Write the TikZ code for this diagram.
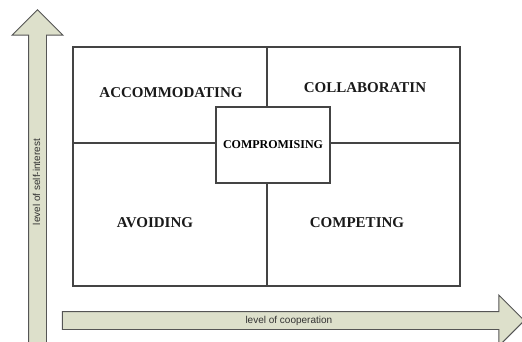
\documentclass[tikz,border=0pt]{standalone}
\usepackage{fontspec}
\setmainfont{Liberation Serif}
\setsansfont{Liberation Sans}
\usepackage{tikz}
\usetikzlibrary{shapes.arrows}

\definecolor{arrowfill}{HTML}{DDE0CB}
\definecolor{arrowline}{HTML}{555555}
\definecolor{boxline}{HTML}{444444}

\tikzset{
	axisarrow/.style={single arrow, draw=arrowline, fill=arrowfill, line width=0.9pt,
		single arrow head extend=16.5pt, single arrow tip angle=90,
		inner xsep=0pt, inner ysep=4pt, text height=7pt, text depth=2pt,
		font=\sffamily\fontsize{10}{12}\selectfont, text=black!80, anchor=tip},
	quadlabel/.style={font=\bfseries\fontsize{15}{18}\selectfont, text=black!90},
	gridline/.style={draw=boxline, line width=1.2pt}
}

\begin{document}
\begin{tikzpicture}[x=1pt, y=-1pt]
		\useasboundingbox (0,0) rectangle (522,341);
		\clip (0,0) rectangle (522,341);
		% оси
		\node [axisarrow, rotate=90, minimum height=336pt] (selfint) at (37.5,9) {level of self-interest};
		\node [axisarrow, minimum height=462pt] (coop) at (525,320.5) {level of cooperation};
		% квадраты
		\draw [gridline] (73,47) rectangle (460,286);
		\draw [gridline] (267,47) -- (267,286);
		\draw [gridline] (73,143) -- (460,143);
		\node [gridline, fill=white, minimum width=114pt, minimum height=76pt, inner sep=0pt,
			font=\bfseries\fontsize{12}{14}\selectfont] (compromising) at (273,145) {COMPROMISING};
		% подписи
		\node [quadlabel] (accommodating) at (171,93) {ACCOMMODATING};
		\node [quadlabel] (collaborating) at (365,88) {COLLABORATIN};
		\node [quadlabel] (avoiding) at (155,223) {AVOIDING};
		\node [quadlabel] (competing) at (357,223) {COMPETING};
\end{tikzpicture}
\end{document}
